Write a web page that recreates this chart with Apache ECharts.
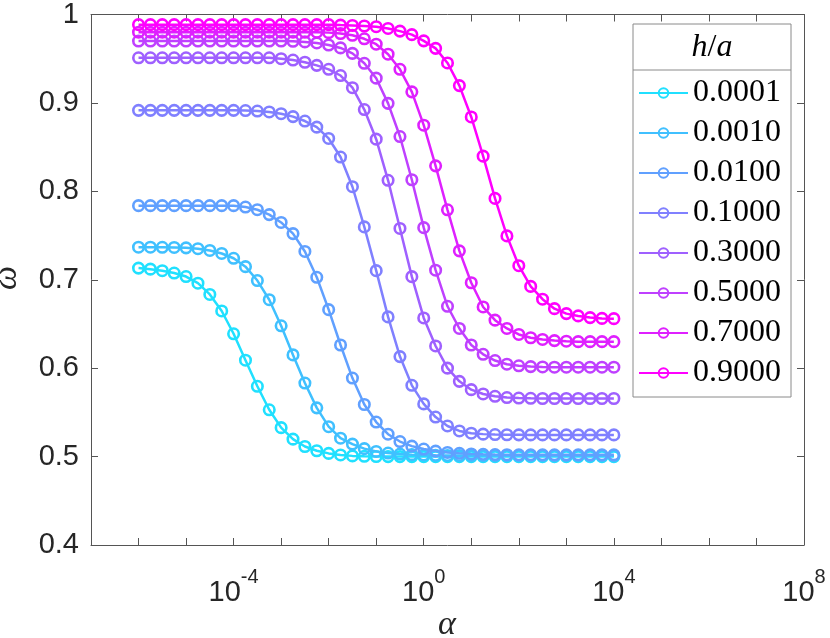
<!DOCTYPE html>
<html>
<head>
<meta charset="utf-8">
<script src="https://cdn.jsdelivr.net/npm/echarts@6/dist/echarts.min.js"></script>
<style>
html,body{margin:0;padding:0;background:#fff;}
#c{width:830px;height:638px;}
</style>
</head>
<body>
<div id="c"></div>
<script>
// alpha grid (x values)
const alpha = [
  1e-6, 1.778e-6, 3.162e-6, 5.623e-6,
  1e-5, 1.778e-5, 3.162e-5, 5.623e-5,
  1e-4, 1.778e-4, 3.162e-4, 5.623e-4,
  1e-3, 1.778e-3, 3.162e-3, 5.623e-3,
  1e-2, 1.778e-2, 3.162e-2, 5.623e-2,
  1e-1, 1.778e-1, 3.162e-1, 5.623e-1,
  1, 1.778, 3.162, 5.623,
  10, 17.78, 31.62, 56.23,
  100, 177.8, 316.2, 562.3,
  1000, 1778, 3162, 5623,
  10000
];
const legendNames = ['0.0001', '0.0010', '0.0100', '0.1000', '0.3000', '0.5000', '0.7000', '0.9000'];
const colors = ['#20E0FF', '#40C0FF', '#60A0FF', '#8080FF', '#9F60FF', '#BF40FF', '#DF20FF', '#FF00FF'];

const w0001 = [0.7132, 0.7120, 0.7102, 0.7076, 0.7036, 0.6961, 0.6834, 0.6647, 0.6389, 0.6090,
  0.5795, 0.5529, 0.5327, 0.5197, 0.5114, 0.5066, 0.5036, 0.5018, 0.5008, 0.5003,
  0.5001, 0.5000, 0.5000, 0.5000, 0.5000, 0.5000, 0.5000, 0.5000, 0.5000, 0.5000,
  0.5000, 0.5000, 0.5000, 0.5000, 0.5000, 0.5000, 0.5000, 0.5000, 0.5000, 0.5000, 0.5000];
const w0010 = [0.7368, 0.7368, 0.7367, 0.7365, 0.7361, 0.7351, 0.7331, 0.7297, 0.7243, 0.7148,
  0.6991, 0.6774, 0.6479, 0.6150, 0.5832, 0.5551, 0.5338, 0.5208, 0.5141, 0.5090,
  0.5058, 0.5040, 0.5029, 0.5022, 0.5018, 0.5015, 0.5013, 0.5012, 0.5011, 0.5011,
  0.5010, 0.5010, 0.5010, 0.5010, 0.5010, 0.5010, 0.5010, 0.5010, 0.5010, 0.5010, 0.5010];
const w0100 = [0.7838, 0.7838, 0.7838, 0.7838, 0.7838, 0.7838, 0.7838, 0.7838, 0.7838, 0.7822,
  0.7792, 0.7737, 0.7648, 0.7522, 0.7320, 0.7028, 0.6662, 0.6262, 0.5888, 0.5589,
  0.5391, 0.5253, 0.5170, 0.5118, 0.5085, 0.5062, 0.5047, 0.5037, 0.5030, 0.5026,
  0.5023, 0.5021, 0.5020, 0.5020, 0.5020, 0.5020, 0.5020, 0.5020, 0.5020, 0.5020, 0.5020];
const w1000 = [0.8916, 0.8916, 0.8916, 0.8916, 0.8916, 0.8916, 0.8916, 0.8916, 0.8916, 0.8914,
  0.8908, 0.8898, 0.8878, 0.8845, 0.8795, 0.8726, 0.8598, 0.8388, 0.8052, 0.7598,
  0.7103, 0.6580, 0.6131, 0.5806, 0.5596, 0.5447, 0.5346, 0.5290, 0.5264, 0.5254,
  0.5249, 0.5247, 0.5246, 0.5245, 0.5245, 0.5245, 0.5245, 0.5245, 0.5245, 0.5245, 0.5245];
const w3000 = [0.9510, 0.9510, 0.9510, 0.9510, 0.9510, 0.9510, 0.9510, 0.9510, 0.9510, 0.9510,
  0.9510, 0.9510, 0.9500, 0.9485, 0.9460, 0.9425, 0.9380, 0.9310, 0.9172, 0.8925,
  0.8590, 0.8125, 0.7580, 0.7035, 0.6568, 0.6251, 0.6000, 0.5851, 0.5757, 0.5708,
  0.5682, 0.5668, 0.5662, 0.5659, 0.5657, 0.5657, 0.5657, 0.5657, 0.5657, 0.5657, 0.5657];
const w5000 = [0.9700, 0.9700, 0.9700, 0.9700, 0.9700, 0.9700, 0.9700, 0.9700, 0.9700, 0.9700,
  0.9700, 0.9700, 0.9700, 0.9697, 0.9690, 0.9678, 0.9655, 0.9622, 0.9560, 0.9448,
  0.9280, 0.8995, 0.8620, 0.8131, 0.7589, 0.7108, 0.6700, 0.6449, 0.6262, 0.6157,
  0.6086, 0.6045, 0.6027, 0.6018, 0.6014, 0.6011, 0.6011, 0.6011, 0.6011, 0.6011, 0.6011];
const w7000 = [0.9800, 0.9800, 0.9800, 0.9800, 0.9800, 0.9800, 0.9800, 0.9800, 0.9800, 0.9800,
  0.9800, 0.9800, 0.9800, 0.9800, 0.9800, 0.9800, 0.9795, 0.9785, 0.9765, 0.9725,
  0.9664, 0.9551, 0.9380, 0.9125, 0.8748, 0.8288, 0.7791, 0.7327, 0.6966, 0.6692,
  0.6543, 0.6449, 0.6381, 0.6344, 0.6325, 0.6312, 0.6305, 0.6300, 0.6300, 0.6300, 0.6300];
const w9000 = [0.9885, 0.9885, 0.9885, 0.9885, 0.9885, 0.9885, 0.9885, 0.9885, 0.9885, 0.9885,
  0.9885, 0.9885, 0.9885, 0.9885, 0.9885, 0.9885, 0.9885, 0.9880, 0.9876, 0.9870,
  0.9862, 0.9842, 0.9812, 0.9772, 0.9702, 0.9617, 0.9452, 0.9196, 0.8841, 0.8398,
  0.7920, 0.7496, 0.7159, 0.6925, 0.6780, 0.6673, 0.6617, 0.6591, 0.6572, 0.6563, 0.6560];
const seriesValues = [w0001, w0010, w0100, w1000, w3000, w5000, w7000, w9000];

const yTicks = [0.4, 0.5, 0.6, 0.7, 0.8, 0.9, 1];
const xLabelExponents = [-4, 0, 4, 8];

const axisColor = '#555555';
const textColor = '#262626';
const sans = '"Liberation Sans", Arial, sans-serif';
const serif = '"Liberation Serif", "DejaVu Serif", serif';

const chart = echarts.init(document.getElementById('c'), null, {renderer: 'canvas'});

const series = seriesValues.map((vals, k) => ({
  name: legendNames[k],
  type: 'line',
  xAxisIndex: 0,
  yAxisIndex: 0,
  data: vals.map((v, i) => [alpha[i], v]),
  symbol: 'circle',
  symbolSize: 10.5,
  showAllSymbol: true,
  lineStyle: {color: colors[k], width: 2.5},
  itemStyle: {color: 'rgba(255,255,255,0)', borderColor: colors[k], borderWidth: 2.6},
  emphasis: {disabled: true},
  z: 2 + k * 0.01
}));

const xCommon = {
  type: 'log',
  logBase: 10,
  min: 1e-7,
  max: 1e8,
  interval: 1,
  splitNumber: 15,
  splitLine: {show: false},
  minorTick: {show: false},
  axisLine: {show: true, lineStyle: {color: axisColor, width: 1}},
  axisTick: {show: true, inside: true, length: 7, lineStyle: {color: axisColor, width: 1}}
};

const option = {
  animation: false,
  backgroundColor: '#ffffff',
  grid: {left: 91, right: 26, top: 10, bottom: 93, containLabel: false},
  xAxis: [
    Object.assign({}, xCommon, {
      position: 'bottom',
      axisLabel: {
        show: true,
        margin: 22,
        interval: 0,
        showMinLabel: true,
        showMaxLabel: true,
        formatter: function (v) {
          const e = Math.round(Math.log10(v));
          if (xLabelExponents.indexOf(e) < 0) return '';
          return '{b|10}{s|' + e + '}';
        },
        rich: {
          b: {fontFamily: sans, fontSize: 29, color: textColor, lineHeight: 40, verticalAlign: 'bottom'},
          s: {fontFamily: sans, fontSize: 20, color: textColor, lineHeight: 16, verticalAlign: 'top'}
        }
      }
    }),
    Object.assign({}, xCommon, {
      position: 'top',
      axisLabel: {show: false}
    })
  ],
  yAxis: [
    {
      type: 'value', min: 0.4, max: 1, interval: 0.1, position: 'left',
      splitLine: {show: false},
      axisLine: {show: true, lineStyle: {color: axisColor, width: 1}},
      axisTick: {show: true, inside: true, length: 7, lineStyle: {color: axisColor, width: 1}},
      axisLabel: {
        margin: 12, fontFamily: sans, fontSize: 29, color: textColor,
        formatter: function (v) {
          const t = yTicks.find(x => Math.abs(x - v) < 1e-6);
          return t === undefined ? '' : String(t);
        }
      }
    },
    {
      type: 'value', min: 0.4, max: 1, interval: 0.1, position: 'right',
      splitLine: {show: false},
      axisLine: {show: true, lineStyle: {color: axisColor, width: 1}},
      axisTick: {show: true, inside: true, length: 7, lineStyle: {color: axisColor, width: 1}},
      axisLabel: {show: false}
    }
  ],
  legend: {
    show: true,
    orient: 'vertical',
    left: 638,
    top: 73,
    padding: 0,
    itemGap: 0,
    itemWidth: 49,
    itemHeight: 12,
    z: 10,
    data: legendNames,
    selectedMode: false,
    textStyle: {fontFamily: serif, fontSize: 32, color: '#000', lineHeight: 40}
  },
  graphic: [
    {type: 'rect', z: 5, shape: {x: 633, y: 24, width: 158, height: 373},
     style: {fill: '#ffffff', stroke: '#8a8a8a', lineWidth: 1}},
    {type: 'line', z: 6, shape: {x1: 633, y1: 70, x2: 791, y2: 70},
     style: {stroke: '#8a8a8a', lineWidth: 1}},
    {type: 'text', z: 6, x: 712, y: 48,
     style: {text: '{i|h}{n|/}{i|a}', textAlign: 'center', textVerticalAlign: 'middle',
       rich: {i: {fontFamily: serif, fontStyle: 'italic', fontSize: 32, fill: '#000'},
              n: {fontFamily: serif, fontSize: 32, fill: '#000'}}}},
    {type: 'text', z: 6, x: 447, y: 625,
     style: {text: 'α', fontFamily: serif, fontStyle: 'italic', fontSize: 34, fill: textColor,
       textAlign: 'center', textVerticalAlign: 'middle'}},
    {type: 'text', z: 6, x: 7, y: 278, rotation: Math.PI / 2,
     style: {text: 'ω', fontFamily: serif, fontStyle: 'italic', fontSize: 34, fill: textColor,
       textAlign: 'center', textVerticalAlign: 'middle'}}
  ],
  series: series
};

chart.setOption(option);
</script>
</body>
</html>
